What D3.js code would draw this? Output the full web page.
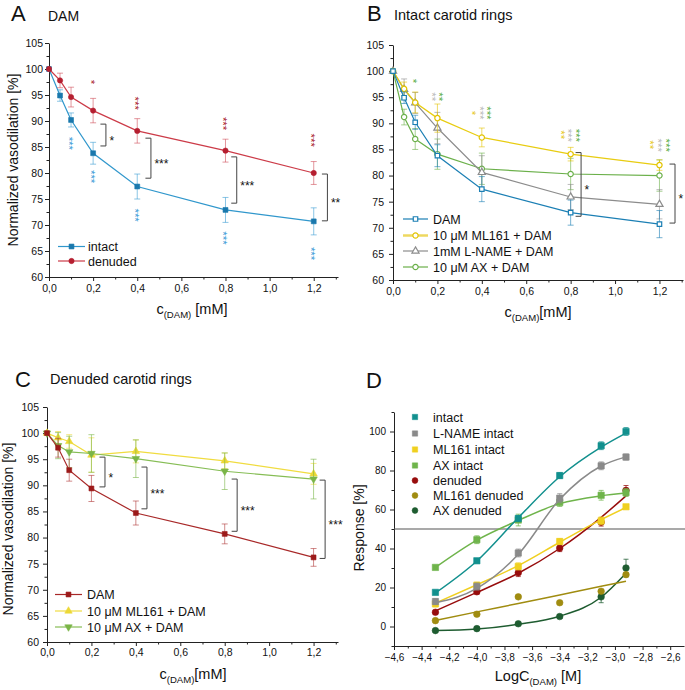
<!DOCTYPE html>
<html><head><meta charset="utf-8">
<script src="https://cdn.jsdelivr.net/npm/d3@7"></script>
<style>body{margin:0;background:#fff} svg text{font-family:"Liberation Sans",Arial,sans-serif;fill:#111}</style>
</head><body><svg id="c" width="685" height="690"></svg>
<script>
// ---------------- DATA ----------------
const concMM = [0, 0.05, 0.1, 0.2, 0.4, 0.8, 1.2];
const xTicksMM = [0, 0.2, 0.4, 0.6, 0.8, 1.0, 1.2];
const xMinorMM = [0.1, 0.3, 0.5, 0.7, 0.9, 1.1, 1.3];
const yTicksVaso = [60, 65, 70, 75, 80, 85, 90, 95, 100, 105];
const yMinorVaso = [62.5, 67.5, 72.5, 77.5, 82.5, 87.5, 92.5, 97.5, 102.5];

// Panel A
const aIntact = [100, 94.9, 90.2, 83.8, 77.4, 72.9, 70.7];
const aIntactErr = [0, 1.1, 1.35, 2.1, 2.4, 2.4, 2.6];
const aDenuded = [100, 97.8, 94.6, 92.0, 88.1, 84.3, 80.0];
const aDenudedErr = [0, 1.4, 1.9, 2.35, 2.35, 2.2, 2.2];

// Panel B
const bDAM = [100, 94.9, 90.2, 83.8, 77.4, 72.9, 70.7];
const bDAMErr = [0, 1.1, 1.35, 2.1, 2.4, 2.4, 2.6];
const bML161 = [100, 96.6, 94.0, 91.0, 87.3, 84.1, 82.0];
const bML161Err = [0, 1.3, 2.0, 2.7, 1.8, 1.3, 1.0];
const bLNAME = [100, 96.5, 93.9, 89.1, 80.6, 75.9, 74.5];
const bLNAMEErr = [0, 2.0, 2.0, 3.0, 3.2, 2.4, 2.8];
const bAX = [100, 91.2, 87.0, 84.1, 81.3, 80.3, 80.0];
const bAXErr = [0, 1.5, 2.0, 2.9, 3.0, 3.0, 3.0];

// Panel C
const cDAM = [100, 97.2, 92.9, 89.4, 84.7, 80.7, 76.2];
const cDAMErr = [0, 1.8, 2.1, 2.5, 2.3, 1.9, 1.7];
const cML161 = [100, 99.1, 98.4, 95.8, 96.5, 94.7, 92.2];
const cML161Err = [0, 1.2, 1.3, 3.3, 2.2, 1.5, 2.0];
const cAX = [100, 97.6, 96.4, 96.1, 95.1, 92.7, 91.2];
const cAXErr = [0, 2.5, 3.0, 3.6, 3.6, 3.5, 3.8];

// Panel D
const logConc = [-4.3, -4.0, -3.7, -3.4, -3.1, -2.92];
const xTicksLog = [-4.6, -4.4, -4.2, -4.0, -3.8, -3.6, -3.4, -3.2, -3.0, -2.8, -2.6];
const yTicksResp = [0, 20, 40, 60, 80, 100];
const yMinorResp = [-10, 10, 30, 50, 70, 90, 110];
const dIntact = [17.5, 33.7, 55.4, 77.4, 92.7, 100.0];
const dIntactErr = [1, 1, 1.5, 1.5, 2, 2];
const dIntactFit = [17.2, 33.6, 55.8, 76.8, 92.0, 99.2];
const dLNAME = [12.8, 20.5, 37.7, 65.8, 82.4, 86.9];
const dLNAMEErr = [1.5, 1.8, 2, 2.3, 2, 1.5];
const dLNAMEFit = [12.2, 19.5, 37.0, 65.2, 82.3, 87.0];
const dML161 = [11.6, 21.2, 30.8, 43.6, 54.2, 61.4];
const dML161Err = [1.5, 1.5, 1.8, 1.5, 2, 1];
const dML161Fit = [12.0, 21.4, 31.2, 43.2, 54.8, 61.0];
const dAX = [30.3, 44.5, 54.6, 63.6, 67.3, 68.7];
const dAXErr = [1, 2, 3, 2, 2.5, 2];
const dAXFit = [30.3, 44.3, 54.4, 63.0, 67.0, 68.4];
const dDenuded = [7.3, 17.8, 27.6, 40.2, 53.5, 69.8];
const dDenudedErr = [1, 1.2, 2, 1.8, 2, 2.5];
const dDenudedFit = [8.0, 17.5, 27.3, 40.0, 56.0, 67.0];
const dML161Den = [3.0, 6.3, 15.2, 12.2, 18.1, 26.6];
const dML161DenErr = [0.5, 0.5, 0.5, 0.5, 0.8, 0.8];
const dML161DenFit = [3.1, 7.5, 11.8, 16.2, 20.6, 23.2];
const dAXDen = [-2.1, -1.1, 1.4, 5.1, 15.2, 30.0];
const dAXDenErr = [0.5, 0.5, 0.5, 1, 3, 4.5];
const dAXDenFit = [-2.1, -1.3, 1.2, 5.3, 15.0, 27.3];

// significance star stacks: [x, centre value, count, colour key, pixel dx]
const aStars = [
  [0.1, 85.7, 3, "aI", 0], [0.2, 79.3, 3, "aI", 0], [0.4, 71.9, 3, "aI", 0], [0.8, 67.5, 3, "aI", 0], [1.2, 64.5, 3, "aI", 0],
  [0.2, 97.5, 1, "aD", 0], [0.4, 93.4, 3, "aD", 0], [0.8, 89.5, 3, "aD", 0], [1.2, 86.3, 3, "aD", 0]
];
const bStars = [
  [0.1, 98.1, 1, "g", 0],
  [0.2, 95.1, 2, "s", -3], [0.2, 95.1, 2, "g", 4],
  [0.4, 92.0, 1, "y", -7], [0.4, 92.0, 3, "s", 1], [0.4, 92.0, 3, "g", 7.5],
  [0.8, 87.8, 2, "y", -7.5], [0.8, 87.7, 3, "s", 0], [0.8, 87.7, 3, "g", 7.5],
  [1.2, 85.9, 2, "y", -6.5], [1.2, 85.8, 3, "s", 1.5], [1.2, 85.8, 3, "g", 9.5]
];
// brackets: [x of vertical bar, top value, bottom value, label]
const aBrackets = [[0.258, 89.4, 85.2, "*"], [0.462, 86.7, 79.0, "***"], [0.851, 83.1, 74.2, "***"], [1.262, 79.8, 70.8, "**"]];
const bBrackets = [[0.847, 84.4, 72.2, "*"], [1.27, 82.2, 70.9, "*"]];
const cBrackets = [[0.261, 95.4, 89.7, "*"], [0.45, 93.5, 85.5, "***"], [0.856, 91.2, 81.2, "***"], [1.252, 91.0, 76.0, "***"]];

// ---------------- DRAWING ----------------
const svg = d3.select("#c");
const comma = d => d3.format(".1f")(d).replace(".", ",");
const symType = {square: d3.symbolSquare, circle: d3.symbolCircle, up: d3.symbolTriangle, down: d3.symbolTriangle};

function marker(g, st, cx, cy) {
  g.append("path").attr("d", d3.symbol(symType[st.sym], st.size)())
    .attr("transform", `translate(${cx},${cy})` + (st.sym === "down" ? " rotate(180)" : ""))
    .attr("fill", st.filled ? st.color : "#fff").attr("stroke", st.color).attr("stroke-width", st.filled ? 0.6 : 1.2);
}

function axes(g, x, y, o) {
  const yb = y.range()[0], xl = x.range()[0];
  const fix = s => { s.attr("font-size", o.fs).attr("font-family", '"Liberation Sans",Arial,sans-serif').attr("color", "#222"); s.selectAll("text").style("fill", "#111"); };
  g.append("g").attr("transform", `translate(0,${yb})`)
    .call(d3.axisBottom(x).tickValues(o.xMinor).tickFormat("").tickSize(2.5)).call(s => s.select(".domain").remove()).attr("color", "#222");
  g.append("g").attr("transform", `translate(${xl},0)`)
    .call(d3.axisLeft(y).tickValues(o.yMinor).tickFormat("").tickSize(2.5)).call(s => s.select(".domain").remove()).attr("color", "#222");
  g.append("g").attr("transform", `translate(0,${yb})`)
    .call(d3.axisBottom(x).tickValues(o.xTicks).tickFormat(o.xFmt).tickSize(4).tickPadding(o.xPad).tickSizeOuter(0)).call(fix);
  g.append("g").attr("transform", `translate(${xl},0)`)
    .call(d3.axisLeft(y).tickValues(o.yTicks).tickFormat(o.yFmt).tickSize(4).tickPadding(o.yPad).tickSizeOuter(0)).call(fix);
}

function errBars(g, x, y, xs, vals, errs, color, cap, op) {
  const eg = g.append("g").attr("stroke", color).attr("stroke-opacity", op).attr("stroke-width", 1);
  xs.forEach((xv, i) => {
    if (!errs[i]) return;
    const cx = x(xv), y1 = y(vals[i] + errs[i]), y2 = y(vals[i] - errs[i]);
    eg.append("line").attr("x1", cx).attr("x2", cx).attr("y1", y1).attr("y2", y2);
    eg.append("line").attr("x1", cx - cap).attr("x2", cx + cap).attr("y1", y1).attr("y2", y1);
    eg.append("line").attr("x1", cx - cap).attr("x2", cx + cap).attr("y1", y2).attr("y2", y2);
  });
}

function lineSeries(g, x, y, xs, vals, errs, st) {
  errBars(g, x, y, xs, vals, errs, st.err || st.color, 3, 0.6);
  g.append("path").datum(xs.map((xv, i) => [xv, vals[i]]))
    .attr("d", d3.line().x(d => x(d[0])).y(d => y(d[1])))
    .attr("fill", "none").attr("stroke", st.line || st.color).attr("stroke-width", 1.2);
  xs.forEach((xv, i) => marker(g, st, x(xv), y(vals[i])));
}

// each stack is one rotated text of n asterisks, read top to bottom
function stars(g, x, y, list, colors) {
  const fs = 11.5;
  list.forEach(([xv, v, n, ck, dx]) => {
    const c = y(v), px = x(xv) + dx;
    g.append("text").attr("transform", `translate(${px - 0.57 * fs},${c}) rotate(90)`)
      .attr("text-anchor", "middle").attr("font-size", fs).style("fill", colors[ck]).text("*".repeat(n));
  });
}

function brackets(g, x, y, list) {
  list.forEach(([bx, t, b, lab]) => {
    const vx = x(bx), y1 = y(t), y2 = y(b);
    g.append("path").attr("d", `M${vx - 5.5},${y1}H${vx}V${y2}H${vx - 5.5}`)
      .attr("fill", "none").attr("stroke", "#444").attr("stroke-width", 1);
    g.append("text").attr("x", vx + 3.5).attr("y", (y1 + y2) / 2 + 12 * 0.57 + 3).attr("font-size", 12).text(lab);
  });
}

function legend(g, items, x0, x1, tx, ys, fs) {
  items.forEach((it, i) => {
    const yy = ys[i];
    g.append("line").attr("x1", x0).attr("x2", x1).attr("y1", yy).attr("y2", yy)
      .attr("stroke", it.line || it.color).attr("stroke-width", it.lw || 1.2);
    marker(g, it, (x0 + x1) / 2, yy);
    g.append("text").attr("x", tx).attr("y", yy + fs * 0.36).attr("font-size", fs).text(it.name);
  });
}

function xTitle(g, cx, by, main, sub, tail, fs) {
  const t = g.append("text").attr("x", cx).attr("y", by).attr("text-anchor", "middle").attr("font-size", fs);
  t.append("tspan").text(main);
  t.append("tspan").attr("font-size", fs * 0.66).attr("dy", 4).text(sub);
  t.append("tspan").attr("dy", -4).text(tail);
}
function yTitle(g, x, cy, txt, fs) {
  g.append("text").attr("transform", `translate(${x},${cy}) rotate(-90)`).attr("text-anchor", "middle").attr("font-size", fs).text(txt);
}
function label(g, x, y, txt, fs) { g.append("text").attr("x", x).attr("y", y).attr("font-size", fs).text(txt); }

const vasoAxis = {xTicks: xTicksMM, xMinor: xMinorMM, yTicks: yTicksVaso, yMinor: yMinorVaso, xFmt: comma, yFmt: d3.format("d"), fs: 10.5};

// ----- Panel A -----
{
  const g = svg.append("g");
  const x = d3.scaleLinear([0, 1.31], [49, 338]);
  const y = d3.scaleLinear([60, 105], [277, 43]);
  axes(g, x, y, {...vasoAxis, xPad: 4, yPad: 2});
  const sI = {color: "#1a78ad", line: "#3097cc", err: "#3d9fd3", sym: "square", size: 24, filled: true};
  const sD = {color: "#b51f30", line: "#cc3b48", err: "#d0505c", sym: "circle", size: 22, filled: true};
  lineSeries(g, x, y, concMM, aIntact, aIntactErr, sI);
  lineSeries(g, x, y, concMM, aDenuded, aDenudedErr, sD);
  stars(g, x, y, aStars, {aI: "#3a9ad6", aD: "#a8192a"});
  brackets(g, x, y, aBrackets);
  legend(g, [{...sI, name: "intact"}, {...sD, name: "denuded"}], 58, 85, 88, [246.5, 261], 12.5);
  label(g, 11, 21, "A", 22);
  label(g, 48, 21, "DAM", 14);
  yTitle(g, 18, 160, "Normalized vasodilation [%]", 14);
  xTitle(g, 192, 314, "c", "(DAM)", " [mM]", 14.5);
}

// ----- Panel B -----
{
  const g = svg.append("g");
  const x = d3.scaleLinear([0, 1.306], [393, 683]);
  const y = d3.scaleLinear([60, 105], [280, 45]);
  axes(g, x, y, {...vasoAxis, xPad: 4, yPad: 5});
  const sDAM = {color: "#1b7fb4", sym: "square", size: 20, filled: false};
  const sML = {color: "#e2c300", line: "#e8cc10", sym: "circle", size: 22, filled: false};
  const sLN = {color: "#8c8c8c", sym: "up", size: 22, filled: false};
  const sAX = {color: "#6bb04a", sym: "circle", size: 22, filled: false};
  lineSeries(g, x, y, concMM, bAX, bAXErr, sAX);
  lineSeries(g, x, y, concMM, bLNAME, bLNAMEErr, sLN);
  lineSeries(g, x, y, concMM, bML161, bML161Err, sML);
  lineSeries(g, x, y, concMM, bDAM, bDAMErr, sDAM);
  stars(g, x, y, bStars, {y: "#e6c620", s: "#b9b9b9", g: "#5aac44"});
  brackets(g, x, y, bBrackets);
  legend(g, [{...sDAM, name: "DAM"}, {...sML, name: "10 μM ML161 + DAM", line: "#eed860", lw: 2.5},
             {...sLN, name: "1mM L-NAME + DAM"}, {...sAX, name: "10 μM AX + DAM"}], 403, 428, 433, [219, 235.5, 251, 267], 12.5);
  label(g, 367, 21, "B", 22);
  label(g, 394, 20, "Intact carotid rings", 14.5);
  xTitle(g, 538, 317, "c", "(DAM)", "[mM]", 14.5);
}

// ----- Panel C -----
{
  const g = svg.append("g");
  const x = d3.scaleLinear([0, 1.31], [47, 338]);
  const y = d3.scaleLinear([60, 105], [642, 407]);
  axes(g, x, y, {...vasoAxis, xPad: 3, yPad: 4});
  const sDAM = {color: "#9c1a1a", line: "#a82828", err: "#b03a3a", sym: "square", size: 24, filled: true};
  const sML = {color: "#ecd836", line: "#f0dc40", sym: "up", size: 24, filled: true};
  const sAX = {color: "#7ab547", line: "#86bd55", sym: "down", size: 24, filled: true};
  lineSeries(g, x, y, concMM, cML161, cML161Err, sML);
  lineSeries(g, x, y, concMM, cAX, cAXErr, sAX);
  lineSeries(g, x, y, concMM, cDAM, cDAMErr, sDAM);
  brackets(g, x, y, cBrackets);
  legend(g, [{...sDAM, name: "DAM"}, {...sML, name: "10 μM ML161 + DAM"}, {...sAX, name: "10 μM AX + DAM"}], 55, 82, 87, [594.5, 611, 627], 12.5);
  label(g, 15, 387, "C", 22);
  label(g, 50, 384, "Denuded carotid rings", 14.5);
  yTitle(g, 13, 529, "Normalized vasodilation [%]", 14);
  xTitle(g, 193, 679, "c", "(DAM)", "[mM]", 14.5);
}

// ----- Panel D -----
{
  const g = svg.append("g");
  const x = d3.scaleLinear([-4.6, -2.5], [394, 684]);
  const y = d3.scaleLinear([-10, 110], [646, 412]);
  const xMinorLog = xTicksLog.map(v => v + 0.1).filter(v => v < -2.5);
  axes(g, x, y, {xTicks: xTicksLog, xMinor: xMinorLog, yTicks: yTicksResp, yMinor: yMinorResp, xFmt: comma, yFmt: d3.format("d"), fs: 10, xPad: 4, yPad: 4});
  g.append("line").attr("x1", 394).attr("x2", 685).attr("y1", y(50)).attr("y2", y(50)).attr("stroke", "#555").attr("stroke-width", 1.2);
  const dSeries = [
    {name: "intact", vals: dIntact, err: dIntactErr, fit: dIntactFit, color: "#12908e", sym: "square"},
    {name: "L-NAME intact", vals: dLNAME, err: dLNAMEErr, fit: dLNAMEFit, color: "#8a8a8a", sym: "square"},
    {name: "ML161 intact", vals: dML161, err: dML161Err, fit: dML161Fit, color: "#f0d020", sym: "square"},
    {name: "AX intact", vals: dAX, err: dAXErr, fit: dAXFit, color: "#6fb44b", sym: "square"},
    {name: "denuded", vals: dDenuded, err: dDenudedErr, fit: dDenudedFit, color: "#970c0c", sym: "circle"},
    {name: "ML161 denuded", vals: dML161Den, err: dML161DenErr, fit: dML161DenFit, color: "#a08c10", sym: "circle"},
    {name: "AX denuded", vals: dAXDen, err: dAXDenErr, fit: dAXDenFit, color: "#1e5c30", sym: "circle"}
  ];
  const line = d3.line().x(d => x(d[0])).y(d => y(d[1])).curve(d3.curveMonotoneX);
  dSeries.slice().reverse().forEach(s => {
    errBars(g, x, y, logConc, s.vals, s.err, s.color, 2.5, 0.75);
    g.append("path").datum(logConc.map((v, i) => [v, s.fit[i]])).attr("d", line)
      .attr("fill", "none").attr("stroke", s.color).attr("stroke-width", 1.5);
    logConc.forEach((v, i) => marker(g, {color: s.color, sym: s.sym, size: s.sym === "square" ? 40 : 34, filled: true}, x(v), y(s.vals[i])));
  });
  const ly = [417, 433.5, 449.5, 465.5, 480.5, 495.5, 510.5];
  dSeries.forEach((s, i) => {
    marker(g, {color: s.color, sym: s.sym, size: s.sym === "square" ? 28 : 26, filled: true}, 415, ly[i]);
    g.append("text").attr("x", 433).attr("y", ly[i] + 12.5 * 0.36).attr("font-size", 12.5).text(s.name);
  });
  label(g, 366, 388, "D", 22);
  yTitle(g, 364, 528, "Response [%]", 14);
  xTitle(g, 538, 681, "LogC", "(DAM)", " [M]", 14.5);
}
</script></body></html>
